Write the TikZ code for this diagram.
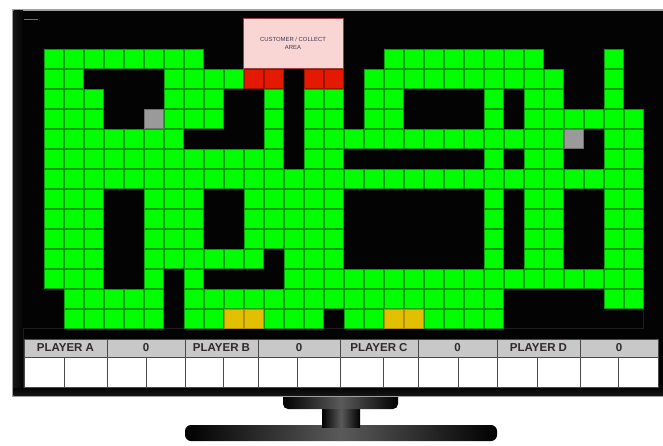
\documentclass[tikz,border=0pt]{standalone}
\usepackage{fontspec}
\setmainfont{Liberation Sans}
\definecolor{cgreen}{HTML}{00FF00}
\definecolor{cgreenedge}{HTML}{0A9A0A}
\definecolor{cred}{HTML}{E41A00}
\definecolor{crededge}{HTML}{9A1400}
\definecolor{cyellow}{HTML}{E2C000}
\definecolor{cyellowedge}{HTML}{B09000}
\definecolor{cgray}{HTML}{9A9A9A}
\definecolor{cgrayedge}{HTML}{707070}
\definecolor{tvblack}{HTML}{030303}
\definecolor{tvedge}{HTML}{A0A0A0}
\definecolor{bezel}{HTML}{161618}
\definecolor{screenline}{HTML}{1E1E1E}
\definecolor{custfill}{HTML}{F9D6D3}
\definecolor{custedge}{HTML}{9A4040}
\definecolor{custtext}{HTML}{3A3A5A}
\definecolor{hdrgray}{HTML}{C8C8C8}
\definecolor{hdrtext}{HTML}{302A2A}
\definecolor{tableline}{HTML}{4A4A4A}
\definecolor{standmid}{HTML}{5A5A5A}
\begin{document}
\begin{tikzpicture}[x=1pt,y=-1pt,
  cellG/.style={fill=cgreen,draw=cgreenedge,line width=0.6pt},
  cellR/.style={fill=cred,draw=crededge,line width=0.6pt},
  cellY/.style={fill=cyellow,draw=cyellowedge,line width=0.6pt},
  cellS/.style={fill=cgray,draw=cgrayedge,line width=0.6pt},
  cellK/.style={},
  custbox/.style={fill=custfill,draw=custedge,line width=0.8pt,minimum width=100pt,minimum height=50pt,inner sep=0pt,align=center,text=custtext,font=\fontsize{5.9}{8}\selectfont},
  hdr/.style={fill=hdrgray,draw=tableline,line width=0.7pt,minimum height=18pt,inner sep=0pt,text=hdrtext,font=\bfseries\fontsize{11.5}{12}\selectfont},
  wcell/.style={fill=white,draw=tableline,line width=0.8pt},
  standpart/.style={left color=black,right color=black,middle color=standmid}
]
\useasboundingbox (0,0) rectangle (663,446);
% stand
\path[standpart,rounded corners=6pt] (185,425) rectangle (497,441);
\path[standpart] (322,405) rectangle (360,427);
\path[standpart,rounded corners=5pt] (283,390) rectangle (398,409);
% TV body
\path[fill=tvblack,draw=tvedge,line width=1.2pt] (13,10) rectangle (700,396);
\path[left color=bezel,right color=tvblack] (13.6,10.6) rectangle (23,395.4);
\path[top color=tvblack,bottom color=bezel] (13.6,388) rectangle (663,395.4);
\draw[screenline,line width=0.5pt] (23,328) -- (643,328) -- (643,298);
\draw[screenline,line width=0.5pt] (23,328) -- (23,388);
\draw[black!55!white,line width=1pt] (24,20) -- (38,20);
% grid
\foreach \row [count=\r from 0] in {
 {G,G,G,G,G,G,G,G,K,K,K,K,K,K,K,K,K,G,G,G,G,G,G,G,G,K,K,K,G,K},
 {G,G,K,K,K,K,G,G,G,G,R,R,K,R,R,K,G,G,G,G,G,G,G,G,G,G,K,K,G,K},
 {G,G,G,K,K,K,G,G,G,K,K,G,K,G,G,K,G,G,K,K,K,K,G,K,G,G,K,K,G,K},
 {G,G,G,K,K,S,G,G,G,K,K,G,K,G,G,K,G,G,K,K,K,K,G,K,G,G,G,G,G,G},
 {G,G,G,G,G,G,G,K,K,K,K,G,K,G,G,G,G,G,G,G,G,G,G,G,G,G,S,K,G,G},
 {G,G,G,G,G,G,G,G,G,G,G,G,K,G,G,K,K,K,K,K,K,K,G,K,G,G,K,K,G,G},
 {G,G,G,G,G,G,G,G,G,G,G,G,G,G,G,G,G,G,G,G,G,G,G,G,G,G,G,G,G,G},
 {G,G,G,K,K,G,G,G,K,K,G,G,G,G,G,K,K,K,K,K,K,K,G,K,G,G,K,K,G,G},
 {G,G,G,K,K,G,G,G,K,K,G,G,G,G,G,K,K,K,K,K,K,K,G,K,G,G,K,K,G,G},
 {G,G,G,K,K,G,G,G,K,K,G,G,G,G,G,K,K,K,K,K,K,K,G,K,G,G,K,K,G,G},
 {G,G,G,K,K,G,G,G,G,G,G,K,G,G,G,K,K,K,K,K,K,K,G,K,G,G,K,K,G,G},
 {G,G,G,K,K,G,K,G,K,K,K,K,G,G,G,G,G,G,G,G,G,G,G,G,G,G,G,G,G,G},
 {K,G,G,G,G,G,K,G,G,G,G,G,G,G,G,G,G,G,G,G,G,G,G,K,K,K,K,K,G,G},
 {K,G,G,G,G,G,K,G,G,Y,Y,G,G,G,K,G,G,Y,Y,G,G,G,G,K,K,K,K,K,K,K}}{
  \foreach \ch [count=\c from 0] in \row {
    \path[cell\ch] ({44.3+20*\c},{49.3+20*\r}) rectangle ++(18.6,18.6);
  }
}
% customer area
\node[custbox] (cust) at (293,43) {CUSTOMER / COLLECT\\AREA};
% score table header
\node[hdr,minimum width=83pt] (pa)  at (65.5,348) {PLAYER A};
\node[hdr,minimum width=78pt] (pa0) at (146,348) {0};
\node[hdr,minimum width=73pt] (pb)  at (221.5,348) {PLAYER B};
\node[hdr,minimum width=82pt] (pb0) at (299,348) {0};
\node[hdr,minimum width=78pt] (pc)  at (379,348) {PLAYER C};
\node[hdr,minimum width=79pt] (pc0) at (457.5,348) {0};
\node[hdr,minimum width=83pt] (pd)  at (538.5,348) {PLAYER D};
\node[hdr,minimum width=78pt] (pd0) at (619,348) {0};
% score table blank row
\foreach \a/\b in {24/64,64/107,107/146,146/185,185/223,223/258,258/297,297/340,340/383,383/418,418/458,458/497,497/537,537/580,580/618,618/658}{
  \path[wcell] (\a,357) rectangle (\b,387);
}
\end{tikzpicture}
\end{document}
